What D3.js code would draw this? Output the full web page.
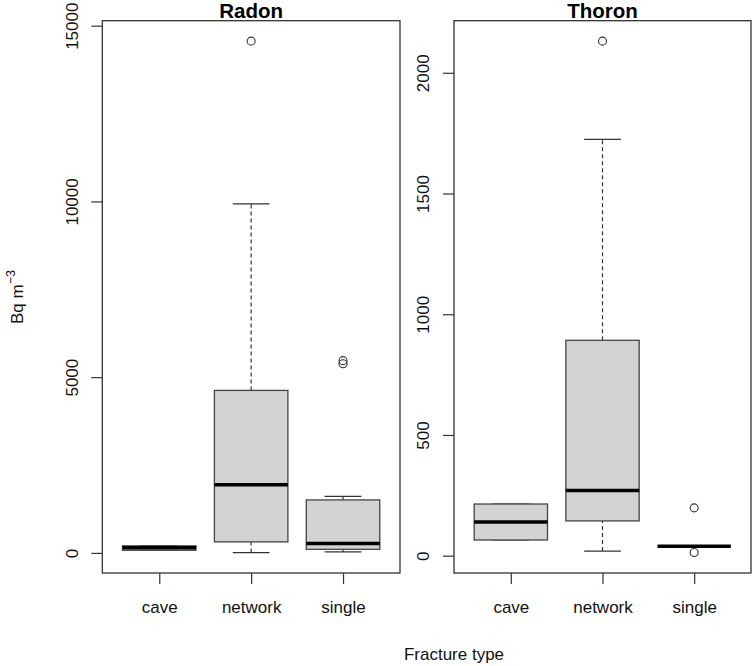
<!DOCTYPE html>
<html>
<head>
<meta charset="utf-8">
<script src="https://cdn.jsdelivr.net/npm/d3@7"></script>
<style>
  body { margin: 0; background: #fff; }
  svg { font-family: "Liberation Sans", Arial, sans-serif; }
</style>
</head>
<body>
<svg id="chart" width="754" height="666"></svg>
<script>
// fracture types on the x axis
const categories = ["cave", "network", "single"];

// boxplot stats per category: [lower whisker, q1, median, q3, upper whisker]
const radonStats = [
  [75, 75, 145, 200, 200],
  [10, 313, 1942, 4623, 9932],
  [28, 102, 264, 1507, 1609],
];
const radonOutliers = [[], [14560], [5380, 5470]];
const radonTicks = [0, 5000, 10000, 15000];

const thoronStats = [
  [65, 65, 139, 214, 214],
  [19, 144, 270, 892, 1724],
  [39, 39, 39, 39, 39],
];
const thoronOutliers = [[], [2131], [13, 198]];
const thoronTicks = [0, 500, 1000, 1500, 2000];

const svg = d3.select("#chart");
const TOP = 20.7, BOTTOM = 573;
const INK = "#333";

const panels = [
  { title: "Radon", x0: 102.3, x1: 400, stats: radonStats, outliers: radonOutliers, ticks: radonTicks },
  { title: "Thoron", x0: 454, x1: 751, stats: thoronStats, outliers: thoronOutliers, ticks: thoronTicks },
];

panels.forEach((p) => {
  // R style limits: data range padded by 4% each side
  const all = p.stats.flat().concat(p.outliers.flat());
  const lo = d3.min(all), hi = d3.max(all);
  const pad = (hi - lo) * 0.04;
  const y = d3.scaleLinear().domain([lo - pad, hi + pad]).range([BOTTOM, TOP]);
  const x = d3.scaleLinear().domain([0.38, 3.62]).range([p.x0, p.x1]);
  const unit = x(2) - x(1);
  const boxW = 0.8 * unit, capW = 0.4 * unit;

  const g = svg.append("g");

  p.stats.forEach((s, i) => {
    const cx = x(i + 1);
    const [wlo, q1, med, q3, whi] = s;
    // whiskers
    [[wlo, q1], [q3, whi]].forEach(([a, b]) => {
      if (a === b) return;
      g.append("line")
        .attr("x1", cx).attr("x2", cx)
        .attr("y1", y(a)).attr("y2", y(b))
        .attr("stroke", INK).attr("stroke-width", 1.2)
        .attr("stroke-dasharray", "4,3");
    });
    [wlo, whi].forEach((v) => {
      g.append("line")
        .attr("x1", cx - capW / 2).attr("x2", cx + capW / 2)
        .attr("y1", y(v)).attr("y2", y(v))
        .attr("stroke", INK).attr("stroke-width", 1.2);
    });
    // box
    g.append("rect")
      .attr("x", cx - boxW / 2)
      .attr("y", y(q3))
      .attr("width", boxW)
      .attr("height", Math.max(y(q1) - y(q3), 0))
      .attr("fill", "#d3d3d3")
      .attr("stroke", "#444")
      .attr("stroke-width", 1.3);
    // median
    g.append("line")
      .attr("x1", cx - boxW / 2).attr("x2", cx + boxW / 2)
      .attr("y1", y(med)).attr("y2", y(med))
      .attr("stroke", "#000").attr("stroke-width", 3.5);
    // outliers
    p.outliers[i].forEach((v) => {
      g.append("circle")
        .attr("cx", cx).attr("cy", y(v)).attr("r", 4)
        .attr("fill", "none").attr("stroke", INK).attr("stroke-width", 1.1);
    });
  });

  // frame
  g.append("rect")
    .attr("x", p.x0).attr("y", TOP)
    .attr("width", p.x1 - p.x0).attr("height", BOTTOM - TOP)
    .attr("fill", "none").attr("stroke", INK).attr("stroke-width", 1.3);

  // y axis
  const yAxis = g.append("g")
    .attr("transform", `translate(${p.x0},0)`)
    .call(d3.axisLeft(y).tickValues(p.ticks).tickSize(11).tickSizeOuter(0).tickFormat(d3.format("d")));
  yAxis.select(".domain").remove();
  yAxis.selectAll("line").attr("stroke", INK).attr("stroke-width", 1.2);
  yAxis.selectAll("text")
    .attr("transform", "rotate(-90)")
    .attr("x", 0).attr("y", -24.8).attr("dy", 0)
    .attr("text-anchor", "middle")
    .style("font-size", "17px").attr("fill", "#111");

  // x axis
  const xAxis = g.append("g")
    .attr("transform", `translate(0,${BOTTOM})`)
    .call(d3.axisBottom(x).tickValues([1, 2, 3]).tickSize(11).tickSizeOuter(0).tickFormat((d) => categories[d - 1]));
  xAxis.select(".domain").remove();
  xAxis.selectAll("line").attr("stroke", INK).attr("stroke-width", 1.2);
  xAxis.selectAll("text")
    .attr("y", 40).attr("dy", 0)
    .style("font-size", "17px").attr("fill", "#111");

  // title
  svg.append("text")
    .attr("x", (p.x0 + p.x1) / 2).attr("y", 18)
    .attr("text-anchor", "middle")
    .style("font-size", "20.5px").style("font-weight", "bold")
    .text(p.title);
});

// axis titles
const yLab = svg.append("text")
  .attr("transform", "translate(22.5,297) rotate(-90)")
  .attr("text-anchor", "middle")
  .style("font-size", "17px").attr("fill", "#111");
yLab.append("tspan").text("Bq m");
yLab.append("tspan").attr("dy", -8).style("font-size", "12.5px").text("\u22123");

svg.append("text")
  .attr("x", 454).attr("y", 660)
  .attr("text-anchor", "middle")
  .style("font-size", "17px").attr("fill", "#111")
  .text("Fracture type");
</script>
</body>
</html>
